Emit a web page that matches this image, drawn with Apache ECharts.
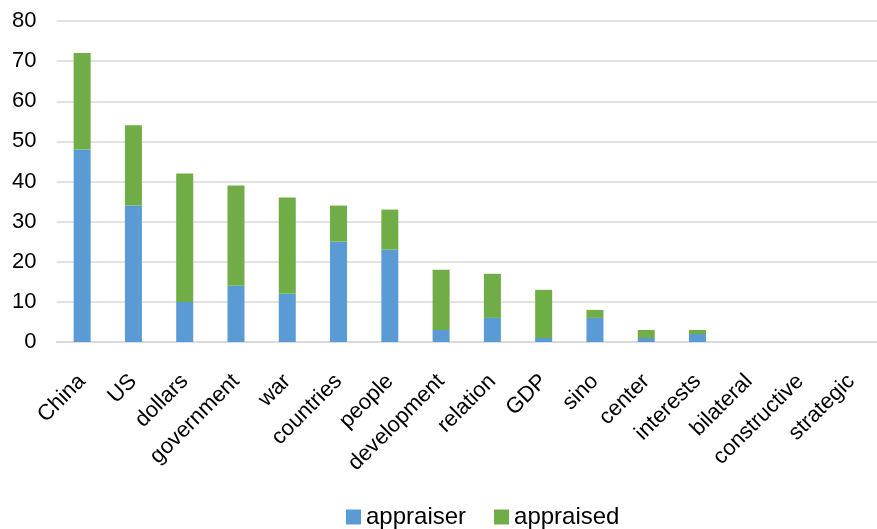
<!DOCTYPE html>
<html>
<head>
<meta charset="utf-8">
<script src="https://cdn.jsdelivr.net/npm/echarts@6/dist/echarts.min.js"></script>
<style>
html,body{margin:0;padding:0;background:#fff;}
#chart{width:877px;height:529px;}
</style>
</head>
<body>
<div id="chart"></div>
<script>
const categories = ["China","US","dollars","government","war","countries","people","development","relation","GDP","sino","center","interests","bilateral","constructive","strategic"];
const appraiser = [48,34,10,14,12,25,23,3,6,1,6,1,2,0,0,0];
const appraised = [24,20,32,25,24,9,10,15,11,12,2,2,1,0,0,0];
const yTicks = [0,80,10];

const FONT = '"Liberation Sans", Arial, sans-serif';
const chart = echarts.init(document.getElementById('chart'), null, {renderer:'canvas'});
chart.setOption({
  animation:false,
  backgroundColor:'#fff',
  textStyle:{fontFamily:FONT},
  grid:{left:56.5, right:-9, top:21, bottom:187, containLabel:false},
  legend:{
    data:['appraiser','appraised'],
    left:341, top:500,
    itemWidth:15, itemHeight:15, itemGap:28,
    icon:'rect',
    textStyle:{fontFamily:FONT, fontSize:24, color:'#000', padding:[0,0,0,0]}
  },
  xAxis:{
    type:'category',
    data:categories,
    axisLine:{lineStyle:{color:'#D9D9D9', width:1.5}},
    axisTick:{show:false},
    axisLabel:{interval:0, rotate:45, fontSize:22, color:'#000', fontFamily:FONT, margin:36}
  },
  yAxis:{
    type:'value',
    min:yTicks[0], max:yTicks[1], interval:yTicks[2],
    axisLine:{show:false},
    axisTick:{show:false},
    splitLine:{lineStyle:{color:'#D9D9D9', width:1.5}},
    axisLabel:{fontSize:22, color:'#000', fontFamily:FONT, margin:20}
  },
  series:[
    {name:'appraiser', type:'bar', stack:'s', data:appraiser, barWidth:17, itemStyle:{color:'#5B9BD5'}},
    {name:'appraised', type:'bar', stack:'s', data:appraised, barWidth:17, itemStyle:{color:'#70AD47'}}
  ]
});
</script>
</body>
</html>
